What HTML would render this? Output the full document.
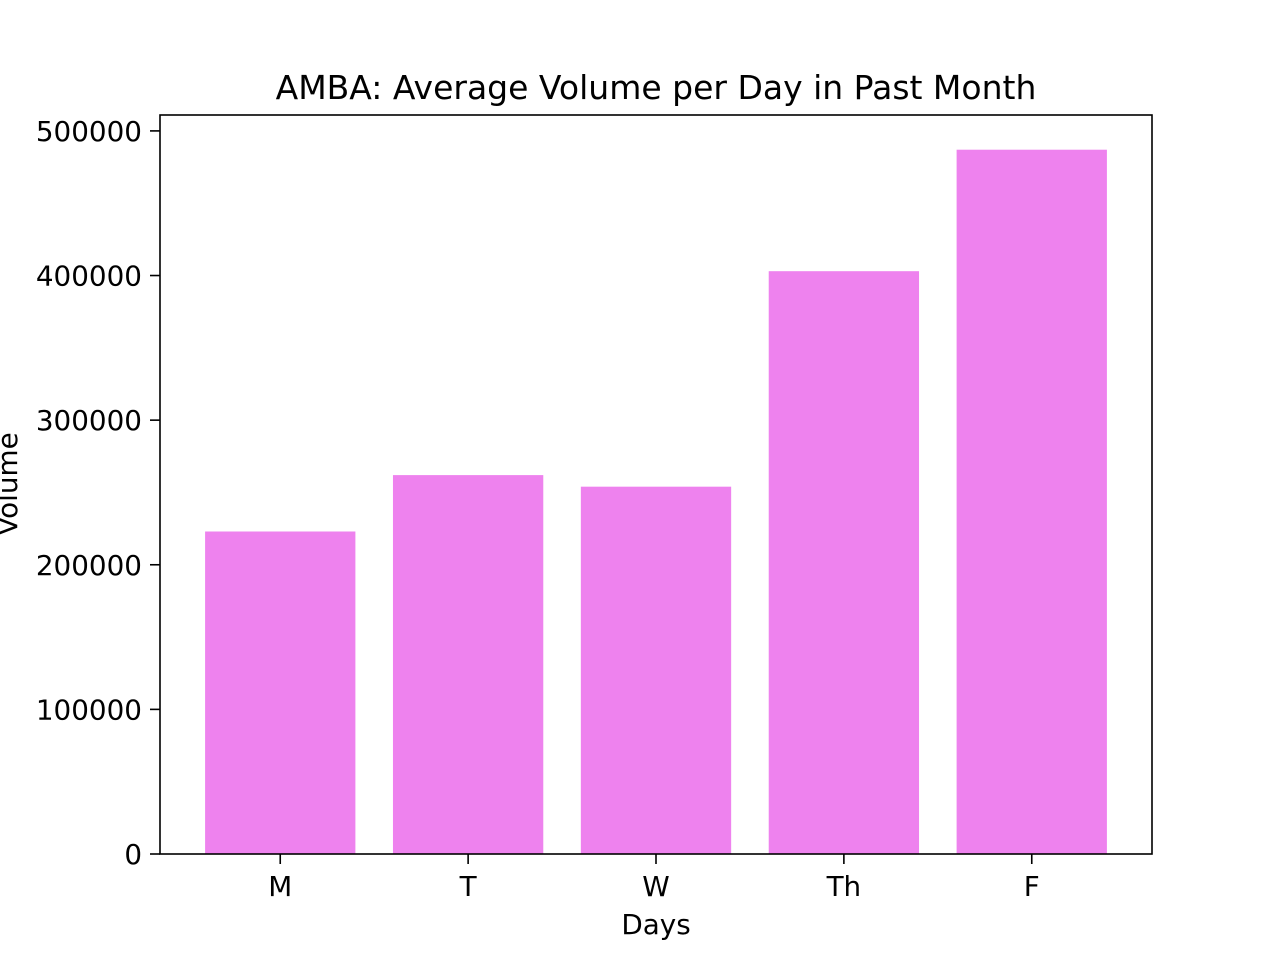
<!DOCTYPE html>
<html><head><meta charset="utf-8"><style>
body{margin:0;background:#fff;}
svg text{font-family:"DejaVu Sans","Liberation Sans",sans-serif;fill:#000;}
</style></head><body>
<svg id="chart" width="1280" height="960">
<text x="656" y="99" font-size="33" text-anchor="middle">AMBA: Average Volume per Day in Past Month</text>
<g id="bars"></g>
<g id="axes"></g>
<rect x="160" y="115" width="992" height="739" fill="none" stroke="#000" stroke-width="1.6"/>
<text x="656" y="934" font-size="27.8" text-anchor="middle">Days</text>
<text transform="translate(17,484) rotate(-90)" font-size="27.8" text-anchor="middle">Volume</text>
</svg>
<script>
const categories=["M","T","W","Th","F"];
const values=[223000,262000,254000,403000,487000];
const yTicks=[0,100000,200000,300000,400000,500000];
const ns="http://www.w3.org/2000/svg";
const L=160,R=1152,T=115,B=854;
const yMax=511000;
function y(v){return B-(v/yMax)*(B-T);}
function x(i){return L+(i+0.64)*((R-L)/5.28);}
const bw=0.8*((R-L)/5.28);
const bars=document.getElementById('bars'),axes=document.getElementById('axes');
categories.forEach((c,i)=>{
  const r=document.createElementNS(ns,'rect');
  r.setAttribute('x',x(i)-bw/2);r.setAttribute('y',y(values[i]));
  r.setAttribute('width',bw);r.setAttribute('height',B-y(values[i]));
  r.setAttribute('fill','#ee82ee');
  
  
  bars.appendChild(r);
  const t=document.createElementNS(ns,'line');
  t.setAttribute('x1',x(i));t.setAttribute('x2',x(i));t.setAttribute('y1',B);t.setAttribute('y2',B+10);
  t.setAttribute('stroke','#000');t.setAttribute('stroke-width','1.6');
  axes.appendChild(t);
  const l=document.createElementNS(ns,'text');
  l.setAttribute('x',x(i));l.setAttribute('y',B+42);l.setAttribute('font-size','27.8');l.setAttribute('text-anchor','middle');
  l.textContent=c;
  
  
  axes.appendChild(l);
});
yTicks.forEach(v=>{
  const t=document.createElementNS(ns,'line');
  t.setAttribute('x1',L-10);t.setAttribute('x2',L);t.setAttribute('y1',y(v));t.setAttribute('y2',y(v));
  t.setAttribute('stroke','#000');t.setAttribute('stroke-width','1.6');
  axes.appendChild(t);
  const l=document.createElementNS(ns,'text');
  l.setAttribute('x',L-18);l.setAttribute('y',y(v)+10);l.setAttribute('font-size','27.8');l.setAttribute('text-anchor','end');
  l.textContent=String(v);
  
  
  axes.appendChild(l);
});
</script>
</body></html>
